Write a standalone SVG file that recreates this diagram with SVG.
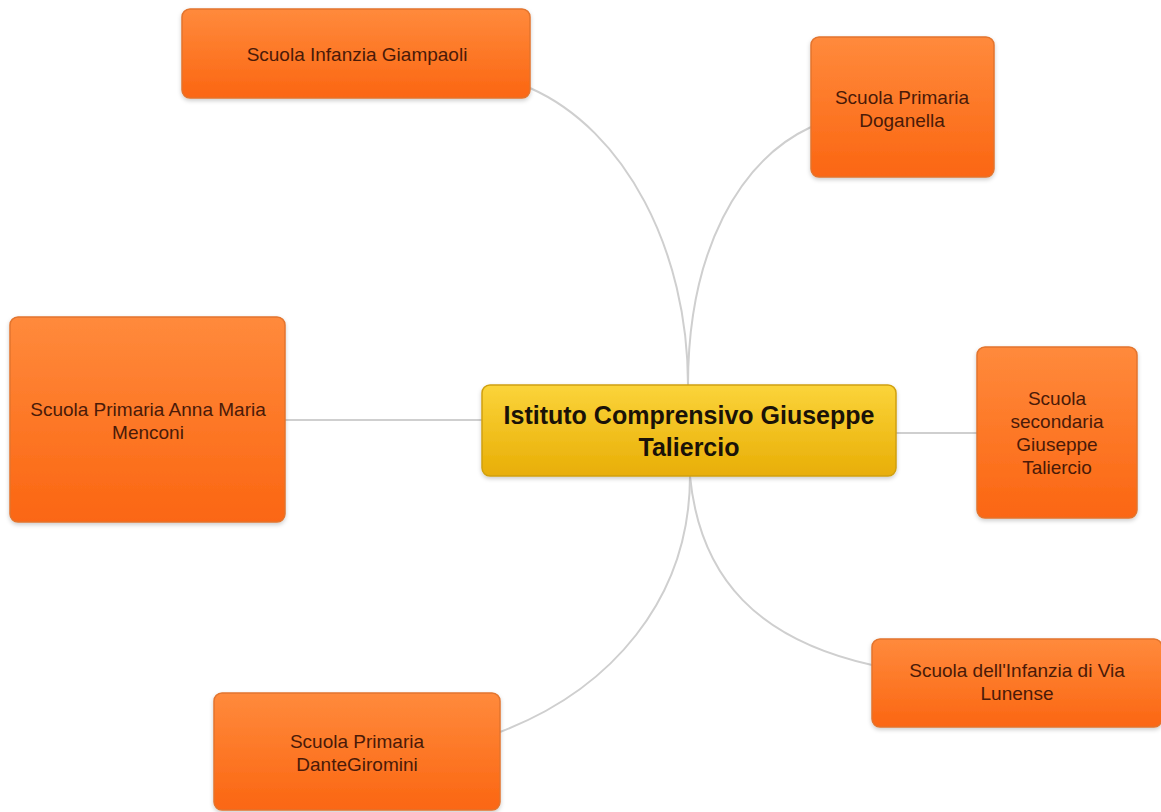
<svg xmlns="http://www.w3.org/2000/svg" width="1161" height="812" viewBox="0 0 1161 812">
<defs>
<linearGradient id="og" x1="0" y1="0" x2="0" y2="1">
<stop offset="0" stop-color="#ff8a3c"/>
<stop offset="1" stop-color="#fb6612"/>
</linearGradient>
<linearGradient id="yg" x1="0" y1="0" x2="0" y2="1">
<stop offset="0" stop-color="#fbd43a"/>
<stop offset="1" stop-color="#e8ae06"/>
</linearGradient>
<filter id="sh" x="-10%" y="-10%" width="120%" height="130%">
<feDropShadow dx="0" dy="2" stdDeviation="2" flood-color="#000" flood-opacity="0.2"/>
</filter>
<style>
.n{fill:url(#og);stroke:#e2742e;stroke-width:1.5;filter:url(#sh)}
.c{fill:url(#yg);stroke:#d0a010;stroke-width:1.5;filter:url(#sh)}
.t{font-family:"Liberation Sans",Arial,sans-serif;font-size:19px;fill:#4a1a08;text-anchor:middle}
.ct{font-family:"Liberation Sans",Arial,sans-serif;font-size:25px;font-weight:bold;fill:#1a1208;text-anchor:middle}
.e{fill:none;stroke:#cfcfcf;stroke-width:2}
</style>
</defs>
<rect width="1161" height="812" fill="#ffffff"/>
<g id="connectors">
<path class="e" d="M530,88 C625,130 688,250 688,385"/>
<path class="e" d="M811,127 C740,160 688,250 688,385"/>
<path class="e" d="M285,420 L482,420"/>
<path class="e" d="M896,433 L977,433"/>
<path class="e" d="M500,732 C610,690 690,600 690,476"/>
<path class="e" d="M872,665 C760,640 700,580 690,476"/>
</g>
<g id="n-giampaoli">
<rect class="n" x="182" y="9" width="348" height="89" rx="8"/>
<text class="t" x="357" y="61">Scuola Infanzia Giampaoli</text>
</g>
<g id="n-doganella">
<rect class="n" x="811" y="37" width="183" height="140" rx="8"/>
<text class="t" x="902" y="104">Scuola Primaria</text>
<text class="t" x="902" y="127">Doganella</text>
</g>
<g id="n-menconi">
<rect class="n" x="10" y="317" width="275" height="205" rx="8"/>
<text class="t" x="148" y="416">Scuola Primaria Anna Maria</text>
<text class="t" x="148" y="439">Menconi</text>
</g>
<g id="n-center">
<rect class="c" x="482" y="385" width="414" height="91" rx="8"/>
<text class="ct" x="689" y="424">Istituto Comprensivo Giuseppe</text>
<text class="ct" x="689" y="456">Taliercio</text>
</g>
<g id="n-secondaria">
<rect class="n" x="977" y="347" width="160" height="171" rx="8"/>
<text class="t" x="1057" y="405">Scuola</text>
<text class="t" x="1057" y="428">secondaria</text>
<text class="t" x="1057" y="451">Giuseppe</text>
<text class="t" x="1057" y="474">Taliercio</text>
</g>
<g id="n-dante">
<rect class="n" x="214" y="693" width="286" height="117" rx="8"/>
<text class="t" x="357" y="748">Scuola Primaria</text>
<text class="t" x="357" y="771">DanteGiromini</text>
</g>
<g id="n-lunense">
<rect class="n" x="872" y="639" width="290" height="88" rx="8"/>
<text class="t" x="1017" y="677">Scuola dell'Infanzia di Via</text>
<text class="t" x="1017" y="700">Lunense</text>
</g>
</svg>
